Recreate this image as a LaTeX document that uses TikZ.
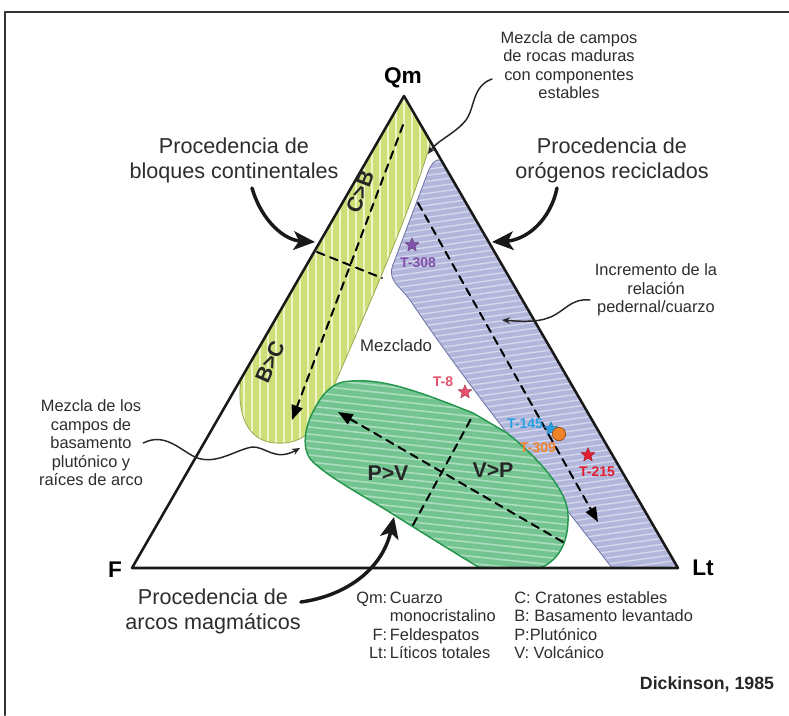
\documentclass[tikz,border=0pt]{standalone}
\usepackage{fontspec}
\setmainfont{Liberation Sans}
\usepackage{xcolor}
\usetikzlibrary{arrows.meta}
\usetikzlibrary{shapes.geometric}

\definecolor{bandyellow}{RGB}{206,223,122}
\definecolor{stripeyellow}{RGB}{240,245,200}
\definecolor{edgeyellow}{RGB}{150,170,80}
\definecolor{bandblue}{RGB}{178,182,218}
\definecolor{stripeblue}{RGB}{214,217,238}
\definecolor{edgeblue}{RGB}{105,115,165}
\definecolor{bandgreen}{RGB}{116,196,146}
\definecolor{stripegreen}{RGB}{172,222,190}
\definecolor{edgegreen}{RGB}{35,150,75}
\definecolor{inkgray}{RGB}{45,45,45}
\definecolor{tpurple}{RGB}{130,80,170}
\definecolor{tpink}{RGB}{228,80,110}
\definecolor{tsky}{RGB}{40,160,225}
\definecolor{torange}{RGB}{240,130,40}
\definecolor{tred}{RGB}{225,30,45}

\begin{document}
\begin{tikzpicture}[x=0.75pt, y=-0.75pt, line cap=round, line join=round, >=Triangle,
  txt/.style={text=inkgray, inner sep=0pt, align=center, font=\fontsize{12.3}{13.9}\selectfont},
  bigtxt/.style={text=inkgray, inner sep=0pt, align=center, font=\fontsize{16.2}{18.8}\selectfont},
  vertex/.style={text=black, inner sep=0pt, font=\fontsize{17}{20}\selectfont\bfseries},
  field/.style={text=black!85, inner sep=0pt, font=\fontsize{16}{19}\selectfont\bfseries},
  sample/.style={inner sep=0pt, font=\fontsize{10.5}{12}\selectfont\bfseries},
  starmark/.style={star, star points=5, star point ratio=2.3, minimum size=11pt, inner sep=0pt, draw=#1!70!black, line width=0.3pt, fill=#1},
  dasharrow/.style={line width=1.5pt, dash pattern=on 6pt off 4.5pt, -{Triangle[length=11pt,width=8.5pt]}},
  dashcross/.style={line width=1.5pt, dash pattern=on 6pt off 4.5pt},
  bigarrow/.style={line width=2.6pt, black!90, -{Stealth[length=16pt,width=14pt,inset=4pt]}},
  callout/.style={line width=1.1pt, black!85, -{Stealth[length=6pt,width=5pt]}}]

  \useasboundingbox (0,0) rectangle (789,715);
  \fill[white] (0,0) rectangle (789,715);
  \draw[line width=2.2pt, black!80] (789,12) -- (5,12) -- (5,715);

  % vertices of the triangle
  \coordinate (F) at (132,568);
  \coordinate (Lt) at (678,568);
  \coordinate (Qm) at (404,96);

  % continental blocks
  \draw[edgeyellow, line width=0.6pt, fill=bandyellow,
    path picture={\foreach \x in {236,244,...,436} \draw[stripeyellow, line width=1.3pt] (\x,90) -- (\x,450);}]
    (Qm) -- (431,141) .. controls (410,215) and (360,325) .. (330,395)
    .. controls (318,428) and (305,445) .. (275,443)
    .. controls (248,441) and (236,415) .. (241,378) -- cycle;

  % recycled orogens
  \draw[edgeblue, line width=0.6pt, fill=bandblue,
    path picture={\foreach \y in {140,146,...,760} \draw[stripeblue, line width=1pt] (380,\y) -- (700,\y-45);}]
    (441,160) -- (Lt) -- (612,568) .. controls (560,500) and (470,390) .. (410,300)
    .. controls (398,284) and (386,280) .. (394,262) -- (428,172)
    .. controls (431,164) and (436,158) .. (441,160) -- cycle;

  % magmatic arcs
  \draw[edgegreen, line width=1.1pt, fill=bandgreen,
    path picture={\foreach \y in {320,327,...,600} \draw[stripegreen, line width=1.2pt] (290,\y) -- (590,\y+32);}]
    (343,382) .. controls (380,376) and (420,392) .. (473,413) -- (507,433)
    .. controls (535,455) and (568,490) .. (568,515)
    .. controls (569,540) and (560,560) .. (540,568) -- (480,568)
    .. controls (450,550) and (410,525) .. (383,508)
    .. controls (365,497) and (330,478) .. (313,462)
    .. controls (300,450) and (305,425) .. (315,408)
    .. controls (322,395) and (330,385) .. (343,382) -- cycle;

  % triangle
  \draw[line width=1.9pt, black!90] (F) -- (Lt) -- (Qm) -- cycle;
  \node[vertex] (qmlab) at (403,78) {Qm};
  \node[vertex] (flab) at (115,570) {F};
  \node[vertex] (ltlab) at (703,568) {Lt};

  % trends
  \coordinate (cbtop) at (403,125);
  \coordinate (cbend) at (292,420);
  \draw[dasharrow] (cbtop) -- (cbend);
  \coordinate (cbx1) at (317,252);
  \coordinate (cbx2) at (382,278);
  \draw[dashcross] (cbx1) -- (cbx2);
  \coordinate (ortop) at (418,203);
  \coordinate (orend) at (598,522);
  \draw[dasharrow] (ortop) -- (orend);
  \coordinate (arstart) at (563,542);
  \coordinate (arend) at (338,412);
  \draw[dasharrow] (arstart) -- (arend);
  \coordinate (arx1) at (413,525);
  \coordinate (arx2) at (472,417);
  \draw[dashcross] (arx1) -- (arx2);

  \node[field, rotate=69] (cb) at (360,192) {C>B};
  \node[field, rotate=66] (bc) at (270,362) {B>C};
  \node[field] (pv) at (388,473) {P>V};
  \node[field] (vp) at (493,470) {V>P};
  \node[txt, font=\fontsize{12.6}{14}\selectfont] (mezclado) at (396,345) {Mezclado};

  % samples
  \node[starmark=tpurple] (s308) at (412,245) {};
  \node[sample, text=tpurple] (t308) at (418,263) {T-308};
  \node[starmark=tpink] (s8) at (465,392) {};
  \node[sample, text=tpink] (t8) at (443,382) {T-8};
  \node[starmark=tsky] (s145) at (551,429) {};
  \node[sample, text=tsky] (t145) at (525,424) {T-145};
  \node[circle, minimum size=10pt, inner sep=0pt, fill=torange, draw=torange!60!black, line width=0.5pt] (c309) at (559,434) {};
  \node[sample, text=torange] (t309) at (538,448) {T-309};
  \node[starmark=tred] (s215) at (588,455) {};
  \node[sample, text=tred] (t215) at (597,472) {T-215};

  % provenance labels
  \node[bigtxt] (conttext) at (234,160) {Procedencia de\\bloques continentales};
  \node[bigtxt] (orotext) at (612,160) {Procedencia de\\or\'ogenos reciclados};
  \node[bigtxt] (arctext) at (213,611) {Procedencia de\\arcos magm\'aticos};
  \coordinate (conttip) at (315,242);
  \coordinate (orotip) at (492,242);
  \coordinate (arctip) at (394,517);
  \draw[bigarrow] (252,188) .. controls (262,222) and (285,240) .. (conttip);
  \draw[bigarrow] (557,188) .. controls (550,222) and (525,240) .. (orotip);
  \draw[bigarrow] (arctext.east |- 0,602) .. controls (345,596) and (382,570) .. (arctip);

  % notes
  \node[txt] (mezclatop) at (569,65) {Mezcla de campos\\de rocas maduras\\con componentes\\estables};
  \node[txt] (incr) at (656,290) {Incremento de la\\relaci\'on\\pedernal/cuarzo};
  \node[txt] (mezclaleft) at (91,443) {Mezcla de los\\campos de\\basamento\\plut\'onico y\\ra\'ices de arco};
  \coordinate (gaptip) at (428,154);
  \coordinate (chertip) at (502,320);
  \coordinate (rootip) at (300,448);
  \draw[callout] (492,79) .. controls (472,86) and (475,108) .. (466,120)
    .. controls (456,133) and (438,140) .. (gaptip);
  \draw[callout] (590,300) .. controls (570,298) and (565,312) .. (548,318)
    .. controls (535,323) and (515,321) .. (chertip);
  \draw[callout] (mezclaleft.east |- 0,443) .. controls (165,432) and (180,450) .. (195,457)
    .. controls (215,466) and (235,450) .. (252,447)
    .. controls (265,446) and (275,462) .. (rootip);

  % legend
  \node[txt, anchor=north west, align=left] (legleft) at (356,590)
    {\begin{tabular}{@{}r@{\,}l@{}}Qm: & Cuarzo\\ & monocristalino\\ F: & Feldespatos\\ Lt: & L\'iticos totales\end{tabular}};
  \node[txt, anchor=north west, align=left] (legright) at (514,590)
    {\begin{tabular}{@{}l@{}}C: Cratones estables\\ B: Basamento levantado\\ P:Plut\'onico\\ V: Volc\'anico\end{tabular}};
  \node[txt, font=\fontsize{13.3}{15}\selectfont\bfseries, text=black!85] (dick) at (707,684) {Dickinson, 1985};
\end{tikzpicture}
\end{document}
